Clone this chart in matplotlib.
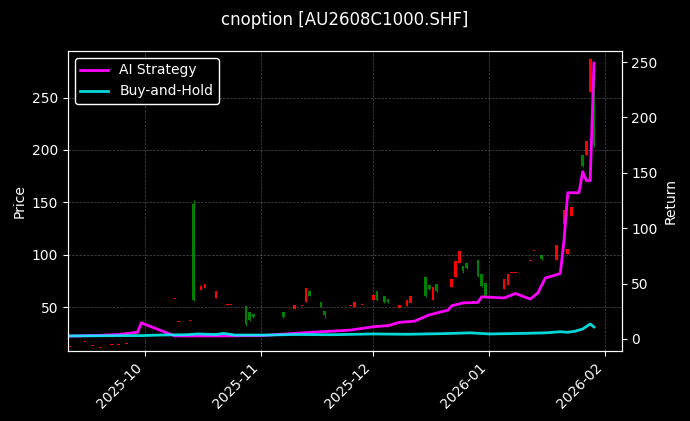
import matplotlib
matplotlib.use("Agg")
import matplotlib.pyplot as plt
import matplotlib.dates as mdates
import pandas as pd

# Candles: date, open, high, low, close
c_dates = ["2025-09-11","2025-09-15","2025-09-17","2025-09-19","2025-09-22","2025-09-24","2025-09-26",
           "2025-10-09","2025-10-10","2025-10-13","2025-10-14","2025-10-16","2025-10-17","2025-10-20","2025-10-21",
           "2025-10-23","2025-10-24","2025-10-28","2025-10-29","2025-10-30","2025-10-31","2025-11-03","2025-11-04",
           "2025-11-07","2025-11-10","2025-11-12","2025-11-13","2025-11-14","2025-11-17","2025-11-18","2025-11-20",
           "2025-11-24","2025-11-25","2025-11-26","2025-11-28","2025-12-01","2025-12-02","2025-12-04","2025-12-05",
           "2025-12-08","2025-12-10","2025-12-11","2025-12-15","2025-12-16","2025-12-17","2025-12-18","2025-12-19",
           "2025-12-22","2025-12-23","2025-12-24","2025-12-25","2025-12-26","2025-12-29","2025-12-30","2025-12-31",
           "2026-01-05","2026-01-06","2026-01-07","2026-01-08","2026-01-12","2026-01-13","2026-01-14","2026-01-15",
           "2026-01-19","2026-01-21","2026-01-22","2026-01-23","2026-01-26","2026-01-27","2026-01-28","2026-01-29"]
c_open  = [12,17,13,11,14,14,15, 58,36,37,148,66,68,59,84, 52,52,51,45,43,44,48,45, 45,48,51,55,65,55,46,45, 46,51,50,52,57,65,61,58, 49,51,54,79,71,57,72,65, 69,79,92,89,92,95,82,73, 67,71,83,83,94,104,112,100, 95,129,101,137,195,195,255,274]
c_high  = [12,17,13,11,14,14,15, 58,36,37,152,71,72,65,84, 52,52,51,45,43,44,48,45, 45,52,51,68,65,55,46,45, 46,52,55,52,62,65,61,58, 52,57,61,79,71,69,72,65, 77,94,104,89,92,95,82,73, 77,82,83,83,94,104,112,100, 109,143,105,146,195,209,287,274]
c_low   = [12,17,13,11,14,14,15, 58,36,37,56,66,68,59,84, 52,52,32,37,40,44,48,45, 40,48,51,55,61,50,40,45, 46,51,50,52,57,56,54,54, 49,51,54,60,66,57,64,65, 69,79,92,83,86,79,69,60, 67,71,83,83,94,104,112,95, 95,129,101,137,184,195,255,203]
c_close = [12,17,13,11,14,14,15, 58,36,37,57,70,72,65,84, 52,52,34,38,41,44,48,45, 41,52,51,68,61,50,42,45, 46,52,55,52,62,57,55,55, 52,57,61,61,67,69,65,65, 77,94,104,84,87,80,70,61, 77,82,83,83,94,104,112,96, 109,143,105,146,185,209,287,205]

# Strategy returns
ai_dates = ["2025-09-10","2025-09-17","2025-09-24","2025-09-29","2025-09-30","2025-10-09","2025-10-20","2025-11-01",
            "2025-11-12","2025-11-20","2025-11-25","2025-12-01","2025-12-05","2025-12-08","2025-12-12","2025-12-16",
            "2025-12-21","2025-12-22","2025-12-25","2025-12-29","2025-12-30","2026-01-05","2026-01-08","2026-01-12",
            "2026-01-14","2026-01-16","2026-01-20","2026-01-21","2026-01-22","2026-01-25","2026-01-26","2026-01-27",
            "2026-01-28","2026-01-29"]
ai_ret = [2.5,3,4,6,14.5,2.7,2.7,3, 5.5,7,8,11,12,15,16,21.7, 26,30,32.5,33,38,37,41,36, 41.5,55,59,89,132,132,151,143, 143,249]

bh_dates = ["2025-09-10","2025-09-30","2025-10-05","2025-10-12","2025-10-15","2025-10-20","2025-10-22","2025-10-25",
            "2025-11-03","2025-11-10","2025-11-20","2025-12-01","2025-12-10","2025-12-20","2025-12-27","2026-01-01",
            "2026-01-10","2026-01-16","2026-01-20","2026-01-22","2026-01-24","2026-01-26","2026-01-28","2026-01-29"]
bh_ret = [2.7,3,3.5,3.8,4.5,4.0,5,3.5, 3.5,4,3.8,4.5,4.2,4.8,5.5,4.5, 5,5.5,6.5,6,7,9,13.5,10.8]

plt.style.use("dark_background")
fig = plt.figure(figsize=(6.9, 4.21), dpi=100, facecolor="black")
ax = fig.add_axes([0.0985, 0.166, 0.8025, 0.713], facecolor="black")
ax2 = ax.twinx()

cd = mdates.date2num(pd.to_datetime(c_dates))
for x, o, h, l, c in zip(cd, c_open, c_high, c_low, c_close):
    col = "red" if c >= o else "green"
    ax.vlines(x, l, h, color=col, linewidth=0.8)
    ax.bar(x, max(abs(c - o), 0.6), bottom=min(o, c), width=0.7, color=col)

ax2.plot(pd.to_datetime(ai_dates), ai_ret, color="#ff00ff", linewidth=2, label="AI Strategy")
ax2.plot(pd.to_datetime(bh_dates), bh_ret, color="#00ffff", linewidth=2, alpha=0.85, label="Buy-and-Hold")

ax.set_xlim(mdates.date2num(pd.Timestamp("2025-09-10 10:00")), mdates.date2num(pd.Timestamp("2026-02-05 10:00")))
ax.set_ylim(8, 294.5)
ax2.set_ylim(-11, 260)
ax.set_yticks([50, 100, 150, 200, 250])
ax2.set_yticks([0, 50, 100, 150, 200, 250])
ax.xaxis.set_major_locator(mdates.MonthLocator())
ax.xaxis.set_major_formatter(mdates.DateFormatter("%Y-%m"))
plt.setp(ax.get_xticklabels(), rotation=45, ha="right")
ax.grid(True, color="gray", linestyle="--", linewidth=0.5, alpha=0.6)
ax.set_ylabel("Price")
ax2.set_ylabel("Return")
for s in ax2.spines.values():
    s.set_color("white")
leg = ax2.legend(loc="upper left", facecolor="black", edgecolor="white", framealpha=1)
fig.suptitle("cnoption [AU2608C1000.SHF]", y=0.975, fontsize=12)
fig.savefig("out.png", dpi=100, facecolor="black")
